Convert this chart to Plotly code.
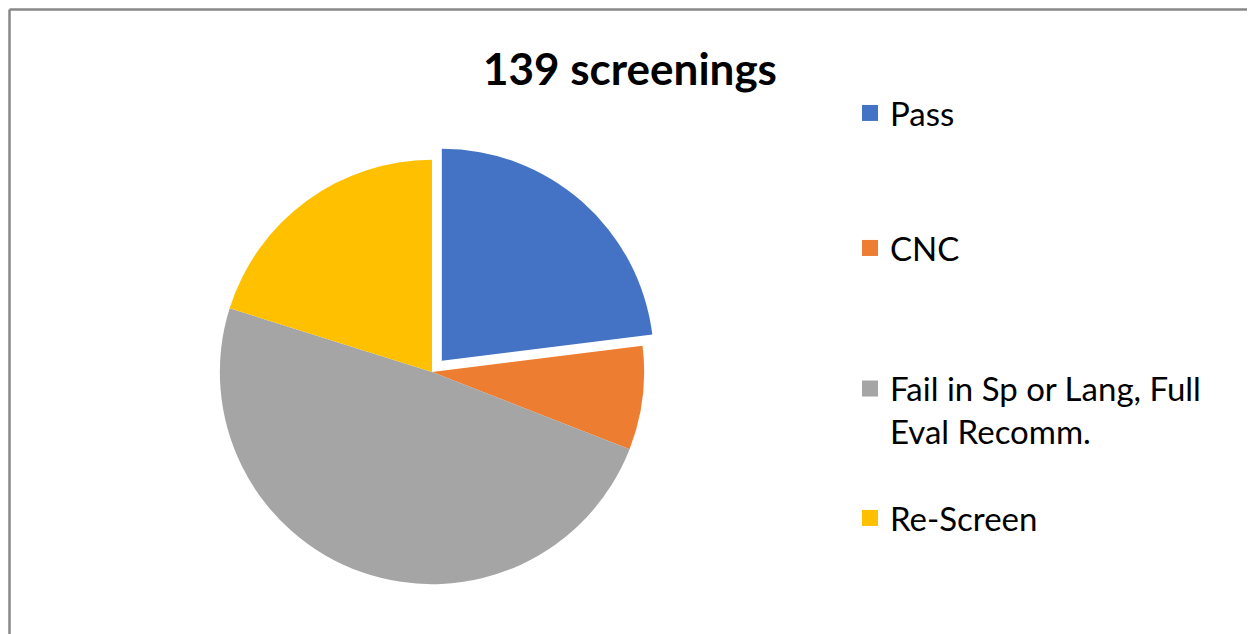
import plotly.graph_objects as go

# Data
labels = ["Pass", "CNC", "Fail in Sp or Lang, Full<br>Eval Recomm.", "Re-Screen"]
counts = [32, 11, 68, 28]
colors = ["#4472C4", "#ED7D31", "#A5A5A5", "#FFC000"]
pulls = [0.07, 0, 0, 0]

W, H = 1255, 634
OFF = 8  # page body margin, figure sits 8px in from the window edge


def px(x):
    return (x - OFF) / W


def py(y):
    return 1 - (y - OFF) / H


fig = go.Figure()
fig.add_trace(go.Pie(
    labels=labels,
    values=counts,
    marker=dict(colors=colors, line=dict(width=0)),
    pull=pulls,
    sort=False,
    direction="clockwise",
    rotation=0,
    textinfo="none",
    showlegend=False,
    domain=dict(x=[px(205), px(659)], y=[py(599), py(145)]),
))

# legend entries, one legend each so the spacing matches the original
legend_y = [113, 248, 410, 518]
for i, (lab, col) in enumerate(zip(labels, colors)):
    name = "legend" if i == 0 else f"legend{i + 1}"
    fig.add_trace(go.Scatter(
        x=[None], y=[None], mode="markers", name=lab,
        marker=dict(symbol="square", size=16, color=col),
        legend=name, showlegend=True,
    ))
    fig.update_layout({name: dict(
        x=px(850), xanchor="left",
        y=py(legend_y[i]), yanchor="middle",
        font=dict(family="Lato", size=33, color="#000000"),
        bgcolor="rgba(0,0,0,0)", valign="top",
        itemsizing="trace",
    )})

fig.update_layout(
    width=W, height=H,
    margin=dict(l=0, r=0, t=0, b=0),
    paper_bgcolor="white", plot_bgcolor="white",
    title=dict(text="<b>139 screenings</b>", x=px(630), xanchor="center",
               y=py(70), yanchor="middle",
               font=dict(family="Lato", size=44, color="#000000")),
    xaxis=dict(visible=False), yaxis=dict(visible=False),
    shapes=[
        dict(type="line", xref="paper", yref="paper", x0=1.5 / W, x1=1.0,
             y0=1 - 1.5 / H, y1=1 - 1.5 / H, line=dict(color="#888888", width=2.5)),
        dict(type="line", xref="paper", yref="paper", x0=1.5 / W, x1=1.5 / W,
             y0=0, y1=1 - 1.5 / H, line=dict(color="#888888", width=2.5)),
    ],
)

fig.write_html("out.html")
